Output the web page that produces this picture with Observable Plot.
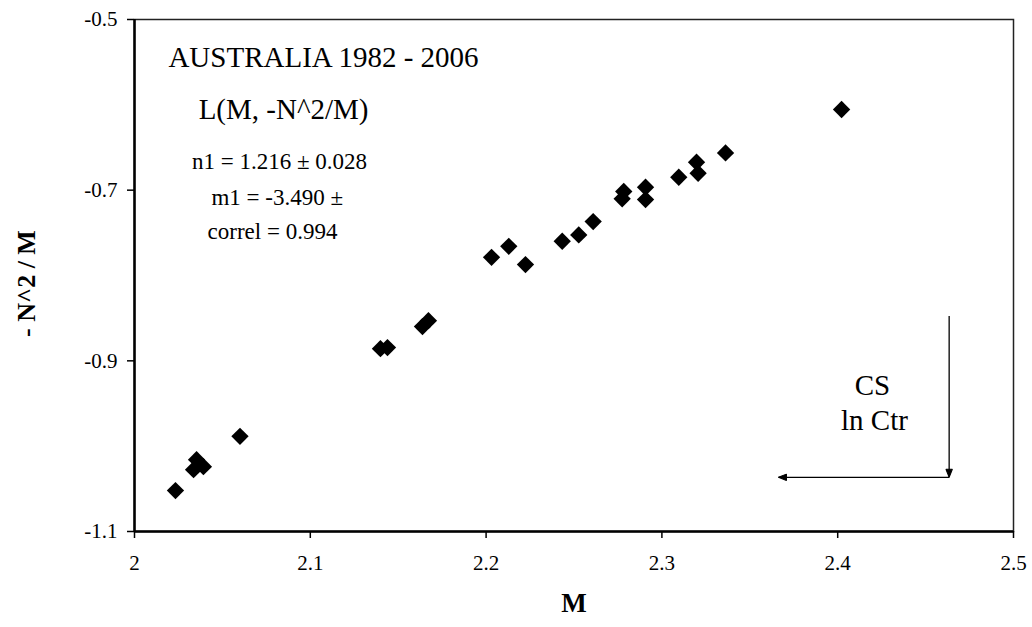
<!DOCTYPE html>
<html><head><meta charset="utf-8">
<script src="https://cdn.jsdelivr.net/npm/d3@7"></script>
<script src="https://cdn.jsdelivr.net/npm/@observablehq/plot@0.6"></script>
<style>
body{margin:0;background:#fff;}
</style>
</head><body><div id="chart"></div>
<script>
// Series values (Australia 1982 - 2006)
const M = [2.0233, 2.0336, 2.0353, 2.0392, 2.0600, 2.1399, 2.1439, 2.1638, 2.1672, 2.2031, 2.2129, 2.2224,
           2.2433, 2.2527, 2.2609, 2.2774, 2.2783, 2.2907, 2.2907, 2.3096, 2.3197, 2.3206, 2.3362, 2.4022];
const negN2overM = [-1.052, -1.0275, -1.0158, -1.0240, -0.9885, -0.8857, -0.8845, -0.8599, -0.8529, -0.7787, -0.7658, -0.7872,
           -0.7599, -0.7524, -0.7368, -0.7102, -0.7016, -0.6966, -0.7110, -0.6849, -0.6673, -0.6802, -0.6563, -0.6055];

// Tick labels
const xTicks = [2, 2.1, 2.2, 2.3, 2.4, 2.5];
const yTicks = [-1.1, -0.9, -0.7, -0.5];

// Annotations (data coordinates)
const titleText = ["AUSTRALIA 1982 - 2006"];
const titleX = [2.0193];
const titleY = [-0.5551];
const formulaText = ["L(M, -N^2/M)"];
const formulaX = [2.0848];
const formulaY = [-0.6161];
const statsText = ["n1 = 1.216 \u00b1 0.028", "m1 = -3.490 \u00b1", "correl = 0.994"];
const statsX = [2.0825, 2.0812, 2.0785];
const statsY = [-0.6747, -0.7169, -0.7567];
const csText = ["CS", "ln Ctr"];
const csX = [2.4198, 2.4209];
const csY = [-0.9396, -0.9815];
// Arrow legs: vertical down, then horizontal left
const arrowX1 = [2.4634, 2.4634];
const arrowY1 = [-0.8476, -1.0365];
const arrowX2 = [2.4634, 2.3663];
const arrowY2 = [-1.0365, -1.0365];

const points = M.map((m, i) => ({x: m, y: negN2overM[i]}));
const zip = (t, xs, ys) => t.map((s, i) => ({text: s, x: xs[i], y: ys[i]}));
const arrows = arrowX1.map((x1, i) => ({x1, y1: arrowY1[i], x2: arrowX2[i], y2: arrowY2[i]}));

function filledArrow(color) {
  return d3.create("svg:marker")
    .attr("viewBox", "0 -5 10 10")
    .attr("refX", 10)
    .attr("markerWidth", 10)
    .attr("markerHeight", 8)
    .attr("markerUnits", "userSpaceOnUse")
    .attr("orient", "auto")
    .call(m => m.append("path").attr("d", "M0,-4L10,0L0,4Z").attr("fill", color))
    .node();
}

const serif = "Liberation Serif";

const chart = Plot.plot({
  width: 1032,
  height: 627,
  marginLeft: 134,
  marginRight: 19,
  marginTop: 19,
  marginBottom: 96,
  style: {fontFamily: "'Liberation Serif', serif", background: "#fff", color: "#000"},
  x: {domain: [2, 2.5]},
  y: {domain: [-1.1, -0.5]},
  marks: [
    Plot.frame({stroke: "#222", strokeWidth: 1.5}),
    Plot.axisX({ticks: xTicks, tickFormat: () => "", tickSize: 7, label: null, strokeWidth: 1.5}),
    Plot.axisY({ticks: yTicks, tickFormat: () => "", tickSize: 7, label: null, strokeWidth: 1.5}),
    Plot.text(xTicks, {x: d => d, y: -1.1, dy: 32, text: d => String(d), fontSize: 21, fontFamily: serif}),
    Plot.text(yTicks, {x: 2, y: d => d, dx: -17, textAnchor: "end", text: d => String(d), fontSize: 21, fontFamily: serif}),
    Plot.ruleX([2], {stroke: "#000", strokeWidth: 2.5}),
    Plot.ruleY([-1.1], {stroke: "#000", strokeWidth: 2.5}),
    Plot.text(["- N^2 / M"], {frameAnchor: "left", textAnchor: "middle", rotate: -90, dx: -108, dy: 8, fontSize: 26, fontWeight: "bold", fontFamily: serif}),
    Plot.text(["M"], {frameAnchor: "bottom", dy: 80, fontSize: 27, fontWeight: "bold", fontFamily: serif}),
    Plot.dot(points, {x: "x", y: "y", symbol: "diamond2", r: 7.8, fill: "#000", stroke: "none"}),
    Plot.text(zip(titleText, titleX, titleY), {x: "x", y: "y", text: "text", textAnchor: "start", lineAnchor: "bottom", fontSize: 29, fontFamily: serif}),
    Plot.text(zip(formulaText, formulaX, formulaY), {x: "x", y: "y", text: "text", textAnchor: "middle", lineAnchor: "bottom", fontSize: 29, fontFamily: serif}),
    Plot.text(zip(statsText, statsX, statsY), {x: "x", y: "y", text: "text", textAnchor: "middle", lineAnchor: "bottom", fontSize: 23, fontFamily: serif}),
    Plot.text(zip(csText, csX, csY), {x: "x", y: "y", text: "text", textAnchor: "middle", lineAnchor: "bottom", fontSize: 29, fontFamily: serif}),
    Plot.link(arrows, {x1: "x1", y1: "y1", x2: "x2", y2: "y2", stroke: "#000", strokeWidth: 1.3, markerEnd: filledArrow})
  ]
});
document.getElementById("chart").appendChild(chart);
</script>
</body></html>
